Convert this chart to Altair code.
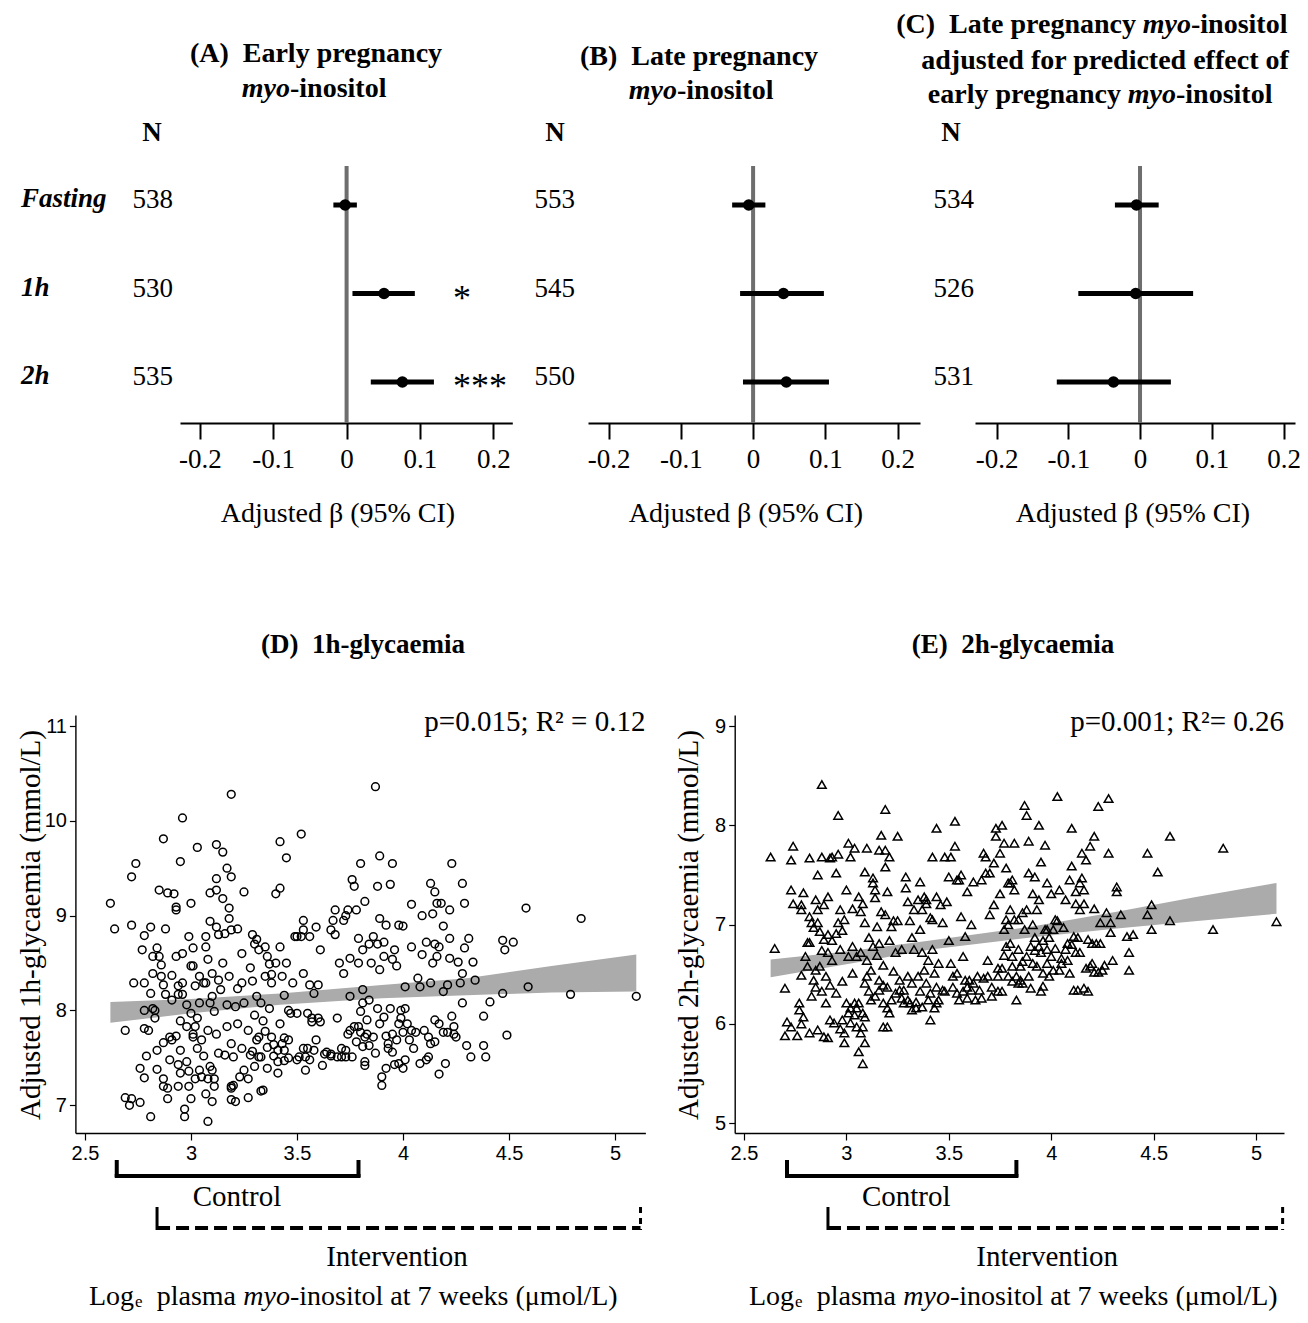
import altair as alt
import pandas as pd

# ---------------- data ----------------
outcomes = ["Fasting", "1h", "2h"]
row_index = [0, 1, 2]
beta_ticks = [-0.2, -0.1, 0, 0.1, 0.2]
zero_ref = [0]

a_n = [538, 530, 535]
a_est = [-0.002, 0.051, 0.076]
a_lo = [-0.018, 0.008, 0.033]
a_hi = [0.014, 0.093, 0.119]
a_sig = ["", "*", "***"]

b_n = [553, 545, 550]
b_est = [-0.006, 0.042, 0.046]
b_lo = [-0.029, -0.018, -0.014]
b_hi = [0.017, 0.098, 0.105]

c_n = [534, 526, 531]
c_est = [-0.005, -0.006, -0.037]
c_lo = [-0.035, -0.086, -0.116]
c_hi = [0.026, 0.074, 0.043]

d_ticks_x = [2.5, 3, 3.5, 4, 4.5, 5]
d_ticks_y = [7, 8, 9, 10, 11]
e_ticks_y = [5, 6, 7, 8, 9]

d_band_x = [2.62, 3.0, 3.42, 3.9, 4.30, 4.7, 5.10]
d_band_lo = [7.87, 7.97, 8.06, 8.13, 8.16, 8.19, 8.20]
d_band_hi = [8.09, 8.12, 8.18, 8.27, 8.34, 8.47, 8.59]

e_band_x = [2.63, 3.0, 3.41, 3.9, 4.32, 4.7, 5.10]
e_band_lo = [6.47, 6.60, 6.75, 6.87, 6.96, 7.035, 7.11]
e_band_hi = [6.65, 6.73, 6.84, 6.98, 7.13, 7.275, 7.42]

d_control = [2.65, 3.79]
d_intervention = [2.84, 5.12]
e_control = [2.71, 3.83]
e_intervention = [2.91, 5.13]

d_points = [
(2.62,9.13),(2.64,8.86),(2.69,7.79),(2.69,7.08),(2.71,7.00),(2.72,7.07),(2.72,8.90),(2.72,9.41),(2.74,9.55),(2.73,8.29),
(2.76,7.03),(2.76,7.39),(2.77,8.64),(2.78,7.29),(2.78,7.81),(2.78,8.00),(2.78,8.29),(2.78,8.79),(2.79,7.52),(2.80,7.79),
(2.81,8.88),(2.81,6.88),(2.81,8.18),(2.82,8.57),(2.82,8.39),(2.82,8.02),(2.83,7.92),(2.83,8.00),(2.84,8.66),(2.84,7.38),
(2.84,7.58),(2.85,9.27),(2.85,8.57),(2.86,8.36),(2.86,8.48),(2.87,7.66),(2.87,7.28),(2.87,9.81),(2.87,7.20),(2.87,8.27),
(2.88,8.86),(2.88,8.17),(2.89,7.07),(2.89,9.24),(2.89,7.18),(2.90,7.48),(2.90,7.72),(2.91,8.11),(2.91,8.37),(2.91,7.69),
(2.92,9.23),(2.93,7.73),(2.93,9.09),(2.93,8.57),(2.93,9.06),(2.94,7.43),(2.94,8.17),(2.94,7.20),(2.94,8.26),(2.95,7.89),
(2.95,7.34),(2.95,9.57),(2.95,7.58),(2.96,8.60),(2.96,8.17),(2.96,10.03),(2.96,8.29),(2.97,6.88),(2.97,6.96),(2.98,7.83),
(2.98,8.06),(2.98,7.46),(2.99,7.36),(2.99,7.20),(2.99,8.78),(3.00,8.47),(3.00,7.07),(3.00,9.13),(3.00,7.97),(3.01,7.72),
(3.01,8.66),(3.01,7.75),(3.01,8.47),(3.02,7.83),(3.02,8.26),(3.02,7.28),(3.03,7.92),(3.03,9.72),(3.03,7.60),(3.04,7.37),
(3.04,8.08),(3.04,8.36),(3.05,7.30),(3.05,7.69),(3.06,8.29),(3.06,7.52),(3.07,8.78),(3.07,8.67),(3.07,7.12),(3.07,8.29),
(3.08,8.54),(3.08,7.28),(3.08,7.79),(3.08,6.83),(3.09,8.94),(3.09,9.24),(3.09,8.08),(3.09,7.41),(3.10,7.04),(3.10,7.37),
(3.10,8.15),(3.10,8.39),(3.11,7.99),(3.11,7.20),(3.11,7.28),(3.12,9.75),(3.12,9.39),(3.12,7.75),(3.12,8.88),(3.12,9.27),
(3.13,8.80),(3.13,8.32),(3.13,7.55),(3.14,8.22),(3.15,8.50),(3.15,9.18),(3.15,9.67),(3.16,7.53),(3.16,8.81),(3.17,7.83),
(3.17,9.50),(3.17,8.06),(3.18,9.08),(3.18,8.97),(3.18,8.36),(3.19,7.20),(3.19,7.06),(3.19,7.65),(3.19,10.28),(3.19,9.41),
(3.19,8.85),(3.19,7.18),(3.20,7.21),(3.20,7.51),(3.21,8.04),(3.21,7.04),(3.22,8.86),(3.22,7.86),(3.22,8.23),(3.23,7.30),
(3.24,7.60),(3.24,8.29),(3.24,8.60),(3.25,7.37),(3.25,8.08),(3.25,9.25),(3.27,7.28),(3.27,7.79),(3.27,7.08),(3.28,7.53),
(3.28,8.45),(3.29,8.31),(3.29,8.80),(3.29,7.57),(3.30,7.41),(3.30,7.95),(3.30,8.70),(3.31,7.69),(3.31,8.15),(3.31,8.75),
(3.32,7.51),(3.32,8.64),(3.32,7.72),(3.33,7.15),(3.33,8.08),(3.33,7.51),(3.34,7.16),(3.34,7.89),(3.35,8.36),(3.35,7.78),
(3.35,8.67),(3.36,7.39),(3.36,7.61),(3.36,8.57),(3.37,8.49),(3.37,8.02),(3.38,7.72),(3.38,8.38),(3.38,8.29),(3.39,7.64),
(3.39,7.52),(3.40,9.23),(3.40,8.50),(3.41,7.34),(3.41,7.58),(3.41,7.46),(3.42,9.78),(3.42,8.67),(3.42,9.29),(3.42,7.86),
(3.43,7.65),(3.43,8.36),(3.44,8.16),(3.44,7.47),(3.44,7.71),(3.44,7.58),(3.45,9.61),(3.45,8.50),(3.46,8.00),(3.46,7.50),
(3.46,7.69),(3.47,7.97),(3.48,8.29),(3.49,8.78),(3.50,7.48),(3.50,7.97),(3.50,8.78),(3.51,7.51),(3.52,8.78),(3.52,9.86),
(3.53,8.95),(3.53,8.39),(3.53,7.60),(3.53,8.85),(3.54,7.37),(3.54,7.51),(3.55,7.97),(3.55,7.60),(3.56,8.78),(3.56,7.48),
(3.56,8.27),(3.57,7.92),(3.57,7.88),(3.58,8.18),(3.58,7.58),(3.59,7.69),(3.59,8.88),(3.60,8.27),(3.60,7.92),(3.61,8.64),
(3.61,7.88),(3.62,7.42),(3.63,7.54),(3.64,7.56),(3.66,8.85),(3.66,7.54),(3.66,7.52),(3.67,8.95),(3.68,9.06),(3.68,8.80),
(3.69,7.92),(3.69,7.51),(3.70,8.50),(3.71,7.51),(3.71,7.60),(3.72,8.95),(3.72,8.39),(3.73,9.00),(3.73,7.51),(3.73,7.58),
(3.74,9.06),(3.74,7.75),(3.75,8.55),(3.75,7.79),(3.75,8.15),(3.76,9.38),(3.76,7.51),(3.77,9.31),(3.77,7.83),(3.78,9.06),
(3.78,7.67),(3.79,8.76),(3.79,7.83),(3.79,8.50),(3.80,9.55),(3.80,7.99),(3.80,7.77),(3.81,7.62),(3.81,8.64),(3.81,8.22),
(3.81,8.08),(3.82,7.42),(3.82,9.15),(3.82,7.72),(3.82,7.46),(3.83,7.90),(3.83,7.75),(3.84,8.70),(3.84,8.11),(3.84,7.63),
(3.85,8.50),(3.86,7.72),(3.86,8.78),(3.87,10.36),(3.87,7.55),(3.88,8.70),(3.88,9.31),(3.88,8.02),(3.89,9.63),(3.89,8.43),
(3.89,8.97),(3.89,7.86),(3.90,7.21),(3.90,7.30),(3.91,8.72),(3.91,7.93),(3.91,8.57),(3.92,7.73),(3.92,7.39),(3.92,8.90),
(3.93,7.65),(3.93,7.60),(3.94,9.33),(3.94,8.02),(3.95,9.55),(3.95,8.54),(3.95,7.56),(3.95,7.75),(3.96,8.64),(3.96,7.43),
(3.97,7.69),(3.97,8.47),(3.98,7.86),(3.98,8.90),(3.98,7.44),(3.99,8.00),(3.99,7.92),(4.00,7.77),(4.00,8.89),(4.00,7.39),
(4.01,8.25),(4.01,7.48),(4.01,8.02),(4.02,7.86),(4.03,7.69),(4.04,9.12),(4.04,8.67),(4.04,7.79),(4.05,7.60),(4.06,7.77),
(4.07,8.34),(4.08,8.25),(4.08,7.44),(4.09,8.59),(4.09,9.00),(4.10,7.79),(4.11,8.72),(4.11,7.48),(4.12,7.72),(4.12,7.51),
(4.13,7.65),(4.13,8.29),(4.13,9.34),(4.14,8.50),(4.14,9.02),(4.15,7.67),(4.15,9.25),(4.15,8.70),(4.15,7.90),(4.16,9.13),
(4.16,8.57),(4.17,7.33),(4.17,7.86),(4.17,8.67),(4.18,9.13),(4.19,8.89),(4.19,8.20),(4.19,7.77),(4.20,7.44),(4.21,8.27),
(4.21,7.77),(4.22,9.06),(4.22,8.76),(4.22,8.55),(4.23,9.55),(4.23,7.94),(4.24,7.83),(4.24,7.75),(4.25,7.72),(4.26,8.51),
(4.27,8.29),(4.28,8.08),(4.28,9.34),(4.28,8.39),(4.29,9.13),(4.29,8.66),(4.30,7.63),(4.31,8.76),(4.32,7.51),(4.33,8.51),
(4.34,8.32),(4.38,7.63),(4.39,7.51),(4.38,7.94),(4.41,8.09),(4.47,8.18),(4.47,8.74),(4.48,8.64),(4.49,7.74),(4.52,8.72),
(4.58,9.08),(4.59,8.25),(4.79,8.17),(4.84,8.97),(5.10,8.15)]

e_points = [
(2.63,7.68),(2.65,6.76),(2.70,6.36),(2.70,5.88),(2.71,6.02),(2.73,7.35),(2.73,5.97),(2.73,7.65),(2.74,7.21),(2.74,7.79),
(2.76,5.88),(2.77,6.14),(2.77,6.21),(2.78,6.49),(2.78,7.15),(2.78,7.20),(2.78,6.00),(2.79,6.07),(2.79,7.32),(2.80,6.68),
(2.81,6.58),(2.81,6.82),(2.82,7.67),(2.82,7.08),(2.82,5.91),(2.82,6.82),(2.83,7.02),(2.83,6.28),(2.84,6.44),(2.84,6.97),
(2.85,6.37),(2.85,6.54),(2.85,7.25),(2.86,5.94),(2.86,7.50),(2.86,7.02),(2.86,7.15),(2.87,6.93),(2.87,6.58),(2.88,8.41),
(2.88,6.74),(2.88,6.33),(2.88,7.68),(2.89,6.85),(2.89,5.87),(2.89,7.20),(2.90,6.21),(2.90,6.48),(2.91,5.86),(2.91,7.28),
(2.91,6.90),(2.91,6.72),(2.92,6.39),(2.92,6.04),(2.92,7.67),(2.93,6.84),(2.93,6.64),(2.93,7.68),(2.94,6.01),(2.95,6.91),
(2.95,7.52),(2.95,6.31),(2.96,7.71),(2.96,8.10),(2.96,7.02),(2.97,5.95),(2.97,6.75),(2.97,7.15),(2.98,6.04),(2.98,6.43),
(2.98,6.94),(2.99,5.81),(2.99,5.91),(2.99,7.05),(3.00,6.21),(3.00,7.35),(3.01,6.68),(3.01,7.82),(3.01,6.11),(3.02,6.01),
(3.02,7.68),(3.02,6.16),(3.03,7.16),(3.03,6.78),(3.03,6.51),(3.04,6.21),(3.04,7.77),(3.04,6.09),(3.05,5.97),(3.05,6.68),
(3.05,6.16),(3.06,7.28),(3.06,5.72),(3.06,6.21),(3.07,6.72),(3.07,7.13),(3.07,5.91),(3.08,6.11),(3.08,5.60),(3.08,5.97),
(3.08,7.21),(3.09,7.53),(3.09,6.41),(3.09,7.02),(3.09,5.81),(3.09,6.07),(3.10,6.64),(3.10,7.77),(3.10,6.48),(3.11,6.87),
(3.11,6.33),(3.12,6.54),(3.12,6.24),(3.13,7.47),(3.13,6.78),(3.13,7.42),(3.14,7.27),(3.14,6.28),(3.14,7.35),(3.15,6.69),
(3.15,6.98),(3.16,7.75),(3.16,6.44),(3.16,6.34),(3.16,6.81),(3.17,7.13),(3.17,7.90),(3.18,6.21),(3.18,6.39),(3.18,5.97),
(3.18,6.59),(3.19,7.58),(3.19,7.10),(3.19,7.75),(3.19,8.16),(3.20,7.33),(3.20,6.16),(3.20,5.97),(3.20,6.37),(3.21,7.68),
(3.21,6.11),(3.21,6.84),(3.22,6.24),(3.22,6.98),(3.23,6.53),(3.23,7.04),(3.24,6.31),(3.24,6.72),(3.25,7.04),(3.25,7.89),
(3.26,6.44),(3.26,6.34),(3.27,6.26),(3.27,6.75),(3.28,6.21),(3.28,6.34),(3.29,7.37),(3.29,7.48),(3.30,6.48),(3.30,6.24),
(3.30,7.23),(3.31,7.04),(3.31,6.21),(3.32,6.87),(3.32,6.41),(3.32,6.14),(3.33,7.15),(3.33,6.75),(3.34,6.22),(3.34,6.16),
(3.35,6.48),(3.35,7.25),(3.36,7.43),(3.36,6.95),(3.36,6.33),(3.37,6.17),(3.37,6.72),(3.37,7.15),(3.38,6.54),(3.38,7.28),
(3.39,7.25),(3.39,6.41),(3.39,7.21),(3.40,6.64),(3.40,6.24),(3.41,6.04),(3.41,7.07),(3.41,6.31),(3.42,6.75),(3.42,7.68),
(3.42,7.05),(3.43,6.51),(3.43,6.16),(3.44,7.28),(3.44,6.37),(3.44,6.21),(3.44,7.97),(3.45,6.61),(3.45,6.24),(3.46,7.20),
(3.47,7.02),(3.47,6.34),(3.48,6.33),(3.48,7.68),(3.49,7.23),(3.50,7.48),(3.50,6.84),(3.51,6.61),(3.51,7.68),(3.52,6.48),
(3.52,6.37),(3.53,8.04),(3.53,7.79),(3.54,6.31),(3.54,7.45),(3.54,6.51),(3.55,7.45),(3.55,6.24),(3.56,7.50),(3.56,7.08),
(3.57,6.33),(3.57,6.68),(3.58,6.88),(3.58,6.44),(3.59,6.37),(3.59,7.33),(3.59,6.26),(3.60,6.44),(3.61,6.34),(3.61,7.00),
(3.62,7.43),(3.62,6.41),(3.63,6.24),(3.64,6.48),(3.65,6.34),(3.66,7.45),(3.66,6.26),(3.67,6.46),(3.67,7.72),(3.68,7.68),
(3.68,7.52),(3.69,6.48),(3.69,6.64),(3.70,7.52),(3.70,7.10),(3.71,6.37),(3.71,6.28),(3.72,7.62),(3.72,7.20),(3.73,7.89),
(3.73,7.97),(3.74,6.33),(3.74,6.56),(3.74,6.48),(3.75,7.72),(3.75,7.31),(3.76,8.00),(3.76,6.56),(3.76,6.33),(3.77,6.95),
(3.77,7.82),(3.77,6.69),(3.78,7.57),(3.78,7.05),(3.78,6.78),(3.79,7.00),(3.79,6.48),(3.79,7.42),(3.80,7.15),(3.80,7.42),
(3.80,6.81),(3.81,6.58),(3.81,7.45),(3.81,6.68),(3.81,6.43),(3.82,7.35),(3.82,7.82),(3.82,7.05),(3.83,6.48),(3.83,6.24),
(3.84,6.75),(3.84,6.41),(3.84,7.05),(3.85,6.58),(3.85,6.44),(3.86,6.63),(3.86,7.12),(3.86,6.41),(3.87,6.95),(3.87,8.20),
(3.88,8.10),(3.88,7.15),(3.88,6.68),(3.89,6.48),(3.89,7.52),(3.89,7.84),(3.90,6.78),(3.90,6.36),(3.91,7.31),(3.91,7.00),
(3.91,6.61),(3.92,6.74),(3.92,7.48),(3.92,6.87),(3.93,7.15),(3.93,6.58),(3.94,8.00),(3.94,6.78),(3.94,7.25),(3.95,7.63),
(3.95,6.33),(3.95,6.72),(3.96,6.51),(3.96,6.38),(3.96,6.84),(3.97,6.95),(3.97,7.80),(3.98,6.75),(3.98,6.61),(3.98,6.95),
(3.98,7.42),(3.99,6.48),(3.99,6.87),(4.00,7.31),(4.00,6.68),(4.01,6.95),(4.01,6.54),(4.02,7.05),(4.02,6.76),(4.03,7.04),
(4.03,8.29),(4.04,6.54),(4.04,7.35),(4.05,6.66),(4.05,6.61),(4.06,6.97),(4.07,6.75),(4.07,7.25),(4.08,6.64),(4.08,6.81),
(4.09,6.51),(4.09,7.45),(4.10,7.97),(4.10,7.59),(4.10,6.80),(4.11,6.88),(4.11,6.34),(4.12,7.33),(4.12,6.72),(4.12,7.21),
(4.13,6.34),(4.13,6.87),(4.14,7.15),(4.14,7.42),(4.14,6.72),(4.15,7.72),(4.15,7.47),(4.16,7.35),(4.16,6.36),(4.16,7.21),
(4.17,6.56),(4.17,7.65),(4.18,6.33),(4.18,6.85),(4.19,7.79),(4.19,6.58),(4.20,6.81),(4.20,6.61),(4.21,7.16),(4.21,6.52),
(4.21,7.89),(4.22,6.81),(4.23,8.19),(4.23,6.52),(4.24,6.81),(4.24,7.02),(4.25,6.54),(4.26,6.59),(4.27,7.12),(4.28,8.27),
(4.28,7.72),(4.29,6.92),(4.29,7.02),(4.30,6.64),(4.32,7.38),(4.32,7.33),(4.34,7.10),(4.37,6.88),(4.38,6.54),(4.38,6.72),
(4.40,6.90),(4.47,7.72),(4.47,7.10),(4.49,7.20),(4.49,6.95),(4.52,7.53),(4.58,7.89),(4.58,7.04),(4.79,6.95),(4.84,7.77),
(5.10,7.03)]

# ---------------- layout ----------------
W, H = 1292, 1307
SERIF = "Liberation Serif, Times New Roman, serif"
NARROW = "Liberation Sans Narrow, Arial Narrow, Liberation Sans, sans-serif"


def cx(v):
    return v - 8


def cy(v):
    return v - 8


def T(text, x, y, size=28, bold=False, italic=False, align="center",
      angle=0, font=SERIF, baseline="middle"):
    return alt.Chart(pd.DataFrame({"label": [text]})).mark_text(
        align=align, baseline=baseline, font=font, fontSize=size,
        fontWeight="bold" if bold else "normal",
        fontStyle="italic" if italic else "normal",
        angle=angle, color="black",
    ).encode(x=alt.value(cx(x)), y=alt.value(cy(y)), text="label:N")


layers = []

# ---------------- forest panels ----------------
ROW_TOP, ROW_BOT = 205, 382
AXIS_Y = 423
ZERO_TOP = 166
FOREST = {
    "A": dict(x0=180.0, x1=512.3, d0=-0.227, d1=0.2258, nx=173, Nx=152, tx=338),
    "B": dict(x0=588.0, x1=920.0, d0=-0.2285, d1=0.231, nx=575, Nx=555, tx=746),
    "C": dict(x0=975.0, x1=1295.0, d0=-0.23, d1=0.216, nx=974, Nx=951, tx=1133),
}
beta_label = "(datum.value < 0 ? '-' : '') + (datum.value == 0 ? '0' : format(abs(datum.value), '.1f'))"


def forest(key, est, lo, hi, n):
    c = FOREST[key]
    df = pd.DataFrame({"row": row_index, "outcome": outcomes, "est": est,
                       "lo": lo, "hi": hi, "n": [str(v) for v in n], "sig": a_sig})
    xs = alt.Scale(domain=[c["d0"], c["d1"]], range=[cx(c["x0"]), cx(c["x1"])], nice=False, zero=False)
    ys = alt.Scale(domain=[0, 2], range=[cy(ROW_TOP), cy(ROW_BOT)], nice=False, zero=False)
    ax = alt.Axis(orient="bottom", offset=cy(AXIS_Y) - H, values=beta_ticks, labelExpr=beta_label,
                  title=None, grid=False, tickSize=16, tickWidth=2, tickColor="black",
                  domainColor="black", domainWidth=2, labelFont=SERIF, labelFontSize=27,
                  labelColor="black", labelPadding=7, labelFlush=False, labelOverlap=False)
    out = []
    out.append(alt.Chart(pd.DataFrame({"zero": zero_ref})).mark_rule(color="#6e6e6e", strokeWidth=4).encode(
        x=alt.X("zero:Q", scale=xs, axis=ax), y=alt.value(cy(ZERO_TOP)), y2=alt.value(cy(AXIS_Y))))
    out.append(alt.Chart(df).mark_rule(color="black", strokeWidth=5).encode(
        x=alt.X("lo:Q", scale=xs, axis=None), x2="hi:Q", y=alt.Y("row:Q", scale=ys, axis=None)))
    out.append(alt.Chart(df).mark_circle(color="black", size=135, opacity=1).encode(
        x=alt.X("est:Q", scale=xs, axis=None), y=alt.Y("row:Q", scale=ys, axis=None)))
    out.append(alt.Chart(df).mark_text(align="right", baseline="middle", font=SERIF, fontSize=27,
                                       color="black", dy=-5).encode(
        x=alt.value(cx(c["nx"])), y=alt.Y("row:Q", scale=ys, axis=None), text="n:N"))
    out.append(T("N", c["Nx"], 133, size=27, bold=True))
    out.append(T("Adjusted β (95% CI)", c["tx"], 514, size=28))
    if key == "A":
        out.append(alt.Chart(df).mark_text(align="left", baseline="middle", font=SERIF, fontSize=27,
                                           fontWeight="bold", fontStyle="italic", color="black", dy=-6).encode(
            x=alt.value(cx(21)), y=alt.Y("row:Q", scale=ys, axis=None), text="outcome:N"))
        out.append(alt.Chart(df).mark_text(align="left", baseline="middle", font=SERIF, fontSize=36,
                                           color="black", dy=5).encode(
            x=alt.value(cx(453)), y=alt.Y("row:Q", scale=ys, axis=None), text="sig:N"))
    return out


layers += forest("A", a_est, a_lo, a_hi, a_n)
layers += forest("B", b_est, b_lo, b_hi, b_n)
layers += forest("C", c_est, c_lo, c_hi, c_n)

# titles of the forest panels
layers += [
    T("(A)\u00a0 Early pregnancy", 316, 54, bold=True),
    T("myo", 290, 89, bold=True, italic=True, align="right"),
    T("-inositol", 290, 89, bold=True, align="left"),
    T("(B)\u00a0 Late pregnancy", 699, 57, bold=True),
    T("myo", 677, 91, bold=True, italic=True, align="right"),
    T("-inositol", 677, 91, bold=True, align="left"),
    T("(C)\u00a0 Late pregnancy", 1136, 25, bold=True, align="right"),
    T("myo", 1191, 25, bold=True, italic=True, align="right"),
    T("-inositol", 1191, 25, bold=True, align="left"),
    T("adjusted for predicted effect of", 1105, 61, bold=True),
    T("early pregnancy", 1121, 95, bold=True, align="right"),
    T("myo", 1176, 95, bold=True, italic=True, align="right"),
    T("-inositol", 1176, 95, bold=True, align="left"),
]

# ---------------- scatter panels ----------------
X_AXIS_Y = 1133
Y_AXIS_TOP = 715
XT_BASE = 1305
SCAT = {
    "D": dict(x0=75.4, x1=645.4, d0=2.455, d1=5.143, y0=6.708, y1=11.116, dx=0),
    "E": dict(x0=734.7, x1=1284.0, d0=2.4546, d1=5.1367, y0=4.902, y1=9.111, dx=660),
}


def scatter(key, pts, bx, blo, bhi, yticks, shape, size, control, interv, ylab, stat, title):
    c = SCAT[key]
    xs = alt.Scale(domain=[c["d0"], c["d1"]], range=[cx(c["x0"]), cx(c["x1"])], nice=False, zero=False)
    ys = alt.Scale(domain=[c["y0"], c["y1"]], range=[cy(X_AXIS_Y), cy(Y_AXIS_TOP)], nice=False, zero=False)
    xax = alt.Axis(orient="bottom", offset=cy(X_AXIS_Y) - H, values=d_ticks_x, format="~g", title=None,
                   grid=False, tickSize=7, tickColor="black", tickWidth=1.2, domainColor="black",
                   domainWidth=1.4, labelFont=NARROW, labelFontSize=20, labelColor="black",
                   labelPadding=3, labelFlush=False, labelOverlap=False)
    yax = alt.Axis(orient="left", offset=-cx(c["x0"]), values=yticks, format="d", title=None,
                   grid=False, tickSize=6, tickColor="black", tickWidth=1.2, domainColor="black",
                   domainWidth=1.4, labelFont=NARROW, labelFontSize=20, labelColor="black",
                   labelPadding=3, labelFlush=False, labelOverlap=False)
    band = pd.DataFrame({"bx": bx, "blo": blo, "bhi": bhi})
    pdf = pd.DataFrame(pts, columns=["mi", "gly"])
    out = []
    out.append(alt.Chart(band).mark_area(color="#ababab", opacity=1).encode(
        x=alt.X("bx:Q", scale=xs, axis=xax), y=alt.Y("blo:Q", scale=ys, axis=yax), y2="bhi:Q"))
    out.append(alt.Chart(pdf).mark_point(shape=shape, filled=False, color="black", size=size,
                                         strokeWidth=1.5, opacity=1).encode(
        x=alt.X("mi:Q", scale=xs, axis=None), y=alt.Y("gly:Q", scale=ys, axis=None)))
    # control bracket
    ctl = pd.DataFrame({"lo": [control[0]], "hi": [control[1]]})
    ctl_ends = pd.DataFrame({"v": control})
    out.append(alt.Chart(ctl).mark_rule(color="black", strokeWidth=4, strokeCap="square").encode(
        x=alt.X("lo:Q", scale=xs, axis=None), x2="hi:Q", y=alt.value(cy(1176))))
    out.append(alt.Chart(ctl_ends).mark_rule(color="black", strokeWidth=4).encode(
        x=alt.X("v:Q", scale=xs, axis=None), y=alt.value(cy(1160)), y2=alt.value(cy(1177))))
    # intervention bracket (dashed)
    itv = pd.DataFrame({"lo": [interv[0]], "hi": [interv[1]]})
    out.append(alt.Chart(itv).mark_rule(color="black", strokeWidth=4, strokeDash=[13, 6]).encode(
        x=alt.X("lo:Q", scale=xs, axis=None), x2="hi:Q", y=alt.value(cy(1228))))
    out.append(alt.Chart(pd.DataFrame({"v": [interv[0]]})).mark_rule(color="black", strokeWidth=3).encode(
        x=alt.X("v:Q", scale=xs, axis=None), y=alt.value(cy(1207)), y2=alt.value(cy(1230))))
    out.append(alt.Chart(pd.DataFrame({"v": [interv[1]]})).mark_rule(color="black", strokeWidth=3,
                                                                    strokeDash=[6, 5]).encode(
        x=alt.X("v:Q", scale=xs, axis=None), y=alt.value(cy(1207)), y2=alt.value(cy(1230))))
    dx = c["dx"]
    out += [
        T("Control", 237 + dx * 1.014, 1197, size=29),
        T("Intervention", 397 + dx * 0.985, 1257, size=29),
        T("Log", 134 + dx, XT_BASE, size=28, align="right", baseline="alphabetic"),
        T("e", 135 + dx, XT_BASE + 2, size=17, align="left", baseline="alphabetic"),
        T("plasma", 236 + dx, XT_BASE, size=28, align="right", baseline="alphabetic"),
        T("myo", 290 + dx, XT_BASE, size=28, italic=True, align="right", baseline="alphabetic"),
        T("-inositol at 7 weeks (μmol/L)", 290 + dx, XT_BASE, size=28, align="left", baseline="alphabetic"),
        T(ylab, 31 + dx * 0.997, 925, size=29, angle=270),
        T(stat, c["x1"], 722, size=29, align="right"),
        T(title, 363 + dx * 0.985, 645, size=27, bold=True),
    ]
    return out


layers += scatter("D", d_points, d_band_x, d_band_lo, d_band_hi, d_ticks_y, "circle", 60,
                  d_control, d_intervention, "Adjusted 1h-glycaemia (mmol/L)",
                  "p=0.015; R² = 0.12", "(D)\u00a0 1h-glycaemia")
layers += scatter("E", e_points, e_band_x, e_band_lo, e_band_hi, e_ticks_y, "triangle-up", 75,
                  e_control, e_intervention, "Adjusted 2h-glycaemia (mmol/L)",
                  "p=0.001; R²= 0.26", "(E)\u00a0 2h-glycaemia")

chart = alt.layer(*layers).resolve_scale(
    x="independent", y="independent"
).resolve_axis(
    x="independent", y="independent"
).properties(
    width=W, height=H, autosize=alt.AutoSizeParams(type="none"), padding=0
).configure_view(stroke=None)

chart.save("out.html", embed_options={"renderer": "svg", "actions": False})
